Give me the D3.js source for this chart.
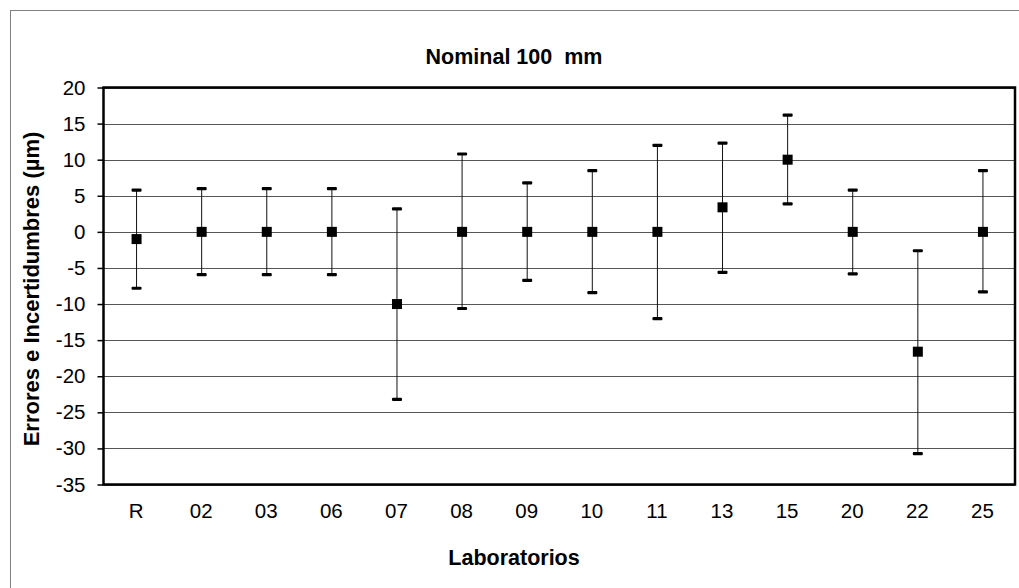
<!doctype html>
<html lang="es">
<head>
  <meta charset="utf-8">
  <title>Nominal 100 mm</title>
  <style>
  body { margin: 0; background: #fff; }
  svg { display: block; font-family: Arial, "Liberation Sans", sans-serif; }
  .grid line { stroke: #555; stroke-width: 1; shape-rendering: crispEdges; }
  .tick text { font-size: 20.5px; fill: #000; }
  </style>
</head>
<body>
<div id="chart"></div>
<script src="https://cdn.jsdelivr.net/npm/d3@7"></script>
<script>
// ---- data
var labs   = ["R", "02", "03", "06", "07", "08", "09", "10", "11", "13", "15", "20", "22", "25"];
var errors = [-1, 0, 0, 0, -10, 0, 0, 0, 0, 3.4, 10, 0, -16.6, 0];
var upper  = [5.8, 6.0, 6.0, 6.0, 3.2, 10.8, 6.8, 8.5, 12.0, 12.3, 16.2, 5.8, -2.6, 8.5];
var lower  = [-7.8, -5.9, -5.9, -5.9, -23.2, -10.6, -6.7, -8.4, -12.0, -5.6, 3.9, -5.8, -30.7, -8.3];
var yTicks = [20, 15, 10, 5, 0, -5, -10, -15, -20, -25, -30, -35];

var width = 1019, height = 588;
var plot = {left: 103.5, right: 1015, top: 87.5, bottom: 484.5};

var svg = d3.select("#chart").append("svg")
    .attr("width", width)
    .attr("height", height);

// outer chart frame (only top/left visible in the picture)
svg.append("rect")
    .attr("x", 10.5).attr("y", 10.5)
    .attr("width", 1020).attr("height", 600)
    .attr("fill", "none").attr("stroke", "#808080").attr("stroke-width", 1);

var x = d3.scaleBand().domain(labs).range([plot.left, plot.right]);
var y = d3.scaleLinear().domain([-35, 20]).range([plot.bottom, plot.top]);

// gridlines
svg.append("g").attr("class", "grid")
  .selectAll("line").data(yTicks).enter()
  .append("line")
    .attr("x1", plot.left).attr("x2", plot.right)
    .attr("y1", d => Math.round(y(d)) + 0.5).attr("y2", d => Math.round(y(d)) + 0.5);

// y axis (plain hyphen for negatives, like the original)
var yAxis = svg.append("g")
    .attr("transform", "translate(" + plot.left + ",0)")
    .call(d3.axisLeft(y).tickValues(yTicks).tickSize(6).tickPadding(12).tickFormat(d => String(d)));
yAxis.select(".domain").remove();
yAxis.selectAll(".tick line").attr("stroke", "#000").attr("stroke-width", 1.5);
yAxis.selectAll(".tick text").style("font-family", "Arial, 'Liberation Sans', sans-serif");

// x axis labels
var xAxis = svg.append("g")
    .attr("transform", "translate(0," + plot.bottom + ")")
    .call(d3.axisBottom(x).tickSize(0).tickPadding(19));
xAxis.select(".domain").remove();
xAxis.selectAll(".tick text").style("font-family", "Arial, 'Liberation Sans', sans-serif");

// plot border
svg.append("rect")
    .attr("x", plot.left).attr("y", plot.top)
    .attr("width", plot.right - plot.left).attr("height", plot.bottom - plot.top)
    .attr("fill", "none").attr("stroke", "#000").attr("stroke-width", 2.5);

// error bars
var bars = svg.append("g").selectAll("g").data(labs).enter().append("g");
bars.append("line")
    .attr("x1", d => x(d) + x.bandwidth() / 2 + 0.5)
    .attr("x2", d => x(d) + x.bandwidth() / 2 + 0.5)
    .attr("y1", (d, i) => y(upper[i]))
    .attr("y2", (d, i) => y(lower[i]))
    .attr("stroke", "#111").attr("stroke-width", 1);
[upper, lower].forEach(function(arr) {
  bars.append("rect")
      .attr("x", d => x(d) + x.bandwidth() / 2 - 4.5)
      .attr("y", (d, i) => y(arr[i]) - 1.5)
      .attr("width", 10).attr("height", 3.2)
      .attr("rx", 1)
      .attr("fill", "#000");
});

// markers
bars.append("rect")
    .attr("x", d => x(d) + x.bandwidth() / 2 - 4.5)
    .attr("y", (d, i) => y(errors[i]) - 5)
    .attr("width", 10).attr("height", 10)
    .attr("fill", "#000");

// titles
svg.append("text")
    .attr("x", 514).attr("y", 64)
    .attr("text-anchor", "middle")
    .attr("font-size", "21.5px").attr("font-weight", "bold")
    .attr("xml:space", "preserve")
    .text("Nominal 100  mm");

svg.append("text")
    .attr("x", 514).attr("y", 565)
    .attr("text-anchor", "middle")
    .attr("font-size", "21.5px").attr("font-weight", "bold")
    .text("Laboratorios");

svg.append("text")
    .attr("transform", "translate(39,289) rotate(-90)")
    .attr("text-anchor", "middle")
    .attr("font-size", "22px").attr("font-weight", "bold")
    .text("Errores e Incertidumbres (µm)");
</script>
</body>
</html>
